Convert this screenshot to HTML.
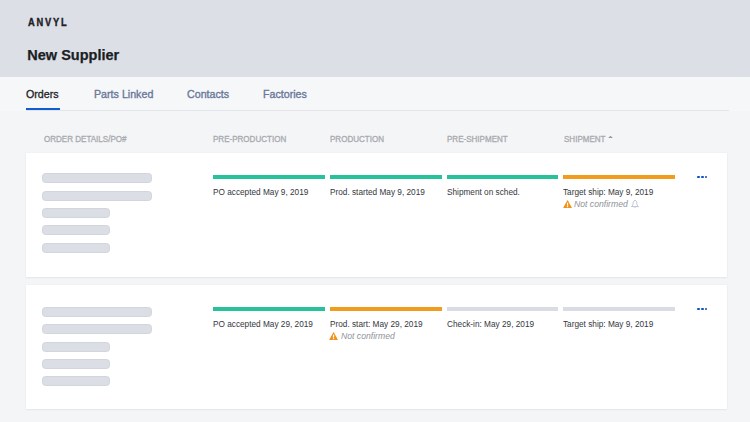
<!DOCTYPE html>
<html><head><meta charset="utf-8">
<style>
*{margin:0;padding:0;box-sizing:border-box}
html,body{width:750px;height:422px;overflow:hidden;background:#f4f5f7;font-family:"Liberation Sans",sans-serif}
.a{position:absolute}
.t{position:absolute;line-height:1;white-space:nowrap;transform-origin:0 0}
#hdr{left:0;top:0;width:750px;height:77px;background:#dcdfe6}
.logo{font-weight:bold;color:#1d2026;-webkit-text-stroke:0.35px #1d2026}
.title{font-weight:bold;color:#1b1e23;-webkit-text-stroke:0.25px #1b1e23}
.tab{color:#6a789a;-webkit-text-stroke:0.35px #6a789a}
.tab0{color:#202328;-webkit-text-stroke:0.3px #202328}
#tabs{left:0;top:77px;width:750px;height:34px;background:#f6f7f9}
#uline{left:26px;top:108px;width:34px;height:2.2px;background:#0f5dd0}
#bline{left:26px;top:110px;width:703px;height:1px;background:#e2e4e9}
.ch{color:#a8aaaf;-webkit-text-stroke:0.3px #a8aaaf}
.card{left:26px;width:701px;height:124px;background:#fff;box-shadow:0 0 1.5px rgba(40,50,70,0.07),0 1px 1.5px rgba(40,50,70,0.06)}
.sk{position:absolute;height:10px;border-radius:3.5px;background:#dbdee4;border:0.6px solid #d2d5dc}
.bar{position:absolute;height:4px}
.g{background:#27c29c}.o{background:#f29c1e}.n{background:#d9dce3}
.st{color:#34373d}
.nc{color:#909398;font-style:italic}
.dots{position:absolute;width:10px;height:3px}
.dots i{position:absolute;top:0;width:2.5px;height:2.5px;border-radius:50%;background:#0a4ec2}
</style></head><body>
<div id="hdr" class="a"></div>
<div class="t logo" style="left:27.8px;top:18.14px;font-size:10px;transform:scaleX(0.93);letter-spacing:1.95px;">ANVYL</div>
<div class="t title" style="left:27.3px;top:47.63px;font-size:14.5px;">New Supplier</div>
<div id="tabs" class="a"></div>
<div class="t tab0" style="left:26.2px;top:88.87px;font-size:10.9px;transform:scaleX(0.98);">Orders</div>
<div class="t tab" style="left:93.6px;top:88.87px;font-size:10.9px;transform:scaleX(0.98);">Parts Linked</div>
<div class="t tab" style="left:186.8px;top:88.87px;font-size:10.9px;transform:scaleX(0.98);">Contacts</div>
<div class="t tab" style="left:263.2px;top:88.87px;font-size:10.9px;transform:scaleX(0.98);">Factories</div>
<div id="bline" class="a"></div>
<div id="uline" class="a"></div>
<div class="t ch" style="left:44.4px;top:134.52px;font-size:8.6px;transform:scaleX(0.935);">ORDER DETAILS/PO#</div>
<div class="t ch" style="left:213px;top:134.52px;font-size:8.6px;transform:scaleX(0.935);">PRE-PRODUCTION</div>
<div class="t ch" style="left:329.8px;top:134.52px;font-size:8.6px;transform:scaleX(0.935);">PRODUCTION</div>
<div class="t ch" style="left:446.7px;top:134.52px;font-size:8.6px;transform:scaleX(0.935);">PRE-SHIPMENT</div>
<div class="t ch" style="left:563.5px;top:134.52px;font-size:8.6px;transform:scaleX(0.935);">SHIPMENT</div>
<svg class="a" style="left:607px;top:135px" width="7" height="5" viewBox="0 0 7 5"><path d="M1.1 3.1 L3.5 0.8 L5.9 3.1 Z" fill="#96989d"/></svg>
<div class="a card" style="top:153px"></div>
<div class="sk" style="left:42px;top:173.3px;width:110.3px"></div>
<div class="sk" style="left:42px;top:190.7px;width:110.3px"></div>
<div class="sk" style="left:42px;top:208.1px;width:68px"></div>
<div class="sk" style="left:42px;top:225.3px;width:68px"></div>
<div class="sk" style="left:42px;top:242.6px;width:68px"></div>
<div class="bar g" style="left:212.6px;top:175.2px;width:112.4px"></div>
<div class="bar g" style="left:329.8px;top:175.2px;width:112.3px"></div>
<div class="bar g" style="left:446.9px;top:175.2px;width:111.6px"></div>
<div class="bar o" style="left:563.1px;top:175.2px;width:112.4px"></div>
<div class="t st" style="left:212.9px;top:188.20px;font-size:8.5px;transform:scaleX(0.97);">PO accepted May 9, 2019</div>
<div class="t st" style="left:330.1px;top:188.20px;font-size:8.5px;transform:scaleX(0.97);">Prod. started May 9, 2019</div>
<div class="t st" style="left:447.2px;top:188.20px;font-size:8.5px;transform:scaleX(0.97);">Shipment on sched.</div>
<div class="t st" style="left:563.4px;top:188.20px;font-size:8.5px;transform:scaleX(0.97);">Target ship: May 9, 2019</div>
<svg class="a" style="left:562.6px;top:199.8px" width="10" height="9" viewBox="0 0 10 9"><path d="M4.2 0.5 Q4.55 0 4.9 0.5 L8.75 7.5 Q9 8 8.4 8 L0.7 8 Q0.1 8 0.35 7.5 Z" fill="#f0921a"/><rect x="3.95" y="2.6" width="1.2" height="3" fill="#fff"/><rect x="3.95" y="6.1" width="1.2" height="1.1" fill="#fff"/></svg>
<div class="t nc" style="left:574.0px;top:200.96px;font-size:8.2px;transform:scaleX(1.055);">Not confirmed</div>
<svg class="a" style="left:630.7px;top:200.3px" width="9" height="10" viewBox="0 0 9 10"><path d="M4 0.5 C2.5 0.5 2.1 2.2 2.1 3.8 C2.1 5.1 1.3 5.9 0.5 6.6 L7.5 6.6 C6.7 5.9 5.9 5.1 5.9 3.8 C5.9 2.2 5.5 0.5 4 0.5 Z" fill="none" stroke="#a9b3c8" stroke-width="0.8" stroke-linejoin="round"/><path d="M3.1 7.4 Q4 8.5 4.9 7.4 Z" fill="#a9b3c8"/></svg>
<div class="dots" style="left:697.2px;top:175.6px"><i style="left:0"></i><i style="left:3.85px"></i><i style="left:7.7px"></i></div>
<div class="a card" style="top:285px"></div>
<div class="sk" style="left:42px;top:307.0px;width:110.3px"></div>
<div class="sk" style="left:42px;top:324.4px;width:110.3px"></div>
<div class="sk" style="left:42px;top:341.8px;width:68px"></div>
<div class="sk" style="left:42px;top:359.0px;width:68px"></div>
<div class="sk" style="left:42px;top:376.3px;width:68px"></div>
<div class="bar g" style="left:212.6px;top:307.2px;width:112.4px"></div>
<div class="bar o" style="left:329.8px;top:307.2px;width:112.3px"></div>
<div class="bar n" style="left:446.9px;top:307.2px;width:111.6px"></div>
<div class="bar n" style="left:563.1px;top:307.2px;width:112.4px"></div>
<div class="t st" style="left:212.9px;top:320.20px;font-size:8.5px;transform:scaleX(0.97);">PO accepted May 29, 2019</div>
<div class="t st" style="left:330.1px;top:320.20px;font-size:8.5px;transform:scaleX(0.97);">Prod. start: May 29, 2019</div>
<div class="t st" style="left:447.2px;top:320.20px;font-size:8.5px;transform:scaleX(0.97);">Check-in: May 29, 2019</div>
<div class="t st" style="left:563.4px;top:320.20px;font-size:8.5px;transform:scaleX(0.97);">Target ship: May 9, 2019</div>
<svg class="a" style="left:329.3px;top:331.8px" width="10" height="9" viewBox="0 0 10 9"><path d="M4.2 0.5 Q4.55 0 4.9 0.5 L8.75 7.5 Q9 8 8.4 8 L0.7 8 Q0.1 8 0.35 7.5 Z" fill="#f0921a"/><rect x="3.95" y="2.6" width="1.2" height="3" fill="#fff"/><rect x="3.95" y="6.1" width="1.2" height="1.1" fill="#fff"/></svg>
<div class="t nc" style="left:340.7px;top:332.96px;font-size:8.2px;transform:scaleX(1.055);">Not confirmed</div>
<div class="dots" style="left:697.2px;top:307.6px"><i style="left:0"></i><i style="left:3.85px"></i><i style="left:7.7px"></i></div>
</body></html>
